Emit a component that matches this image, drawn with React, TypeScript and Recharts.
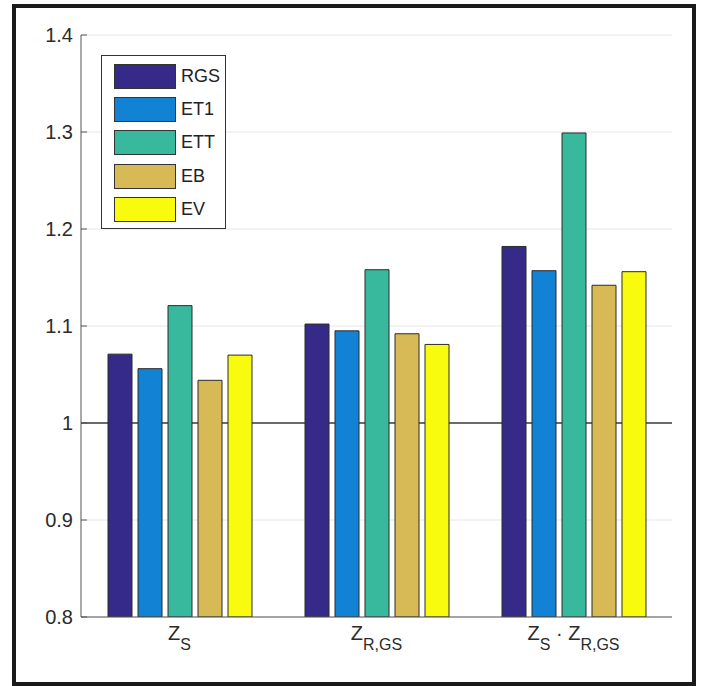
import React from "react";
import { BarChart, Bar, XAxis, YAxis, CartesianGrid, Legend } from "recharts";

const categories = ["Zs", "Zrgs", "ZsZrgs"];
const rgs = [1.071, 1.102, 1.182];
const et1 = [1.056, 1.095, 1.157];
const ett = [1.121, 1.158, 1.299];
const eb = [1.044, 1.092, 1.142];
const ev = [1.07, 1.081, 1.156];
const yTicks = [0.8, 0.9, 1, 1.1, 1.2, 1.3, 1.4];
const seriesNames = ["RGS", "ET1", "ETT", "EB", "EV"];
const seriesColors = ["#352A87", "#1283D4", "#38B99E", "#D7BA55", "#F9FB0E"];
// x tick label pieces: [text, subscript?]
const tickLabels: [string, boolean][][] = [
  [["Z", false], ["S", true]],
  [["Z", false], ["R,GS", true]],
  [["Z", false], ["S", true], [" \u00B7 ", false], ["Z", false], ["R,GS", true]],
];

const seriesValues = [rgs, et1, ett, eb, ev];
const data = categories.map((name, i) => {
  const row: Record<string, string | number> = { name };
  seriesNames.forEach((s, k) => (row[s] = seriesValues[k][i]));
  return row;
});

const FONT = '"Liberation Sans", Arial, sans-serif';
const TEXT = "#2b2b2b";
const AXIS = "#555";

function XTick(props: any) {
  const { x, y, index } = props;
  const parts = tickLabels[index] || [];
  let shifted = false;
  return (
    <text x={x} y={y + 23} textAnchor="middle" fontFamily={FONT} fontSize={20} fill={TEXT}>
      {parts.map(([t, sub], i) => {
        let dy = 0;
        if (sub && !shifted) { dy = 10; shifted = true; }
        else if (!sub && shifted) { dy = -10; shifted = false; }
        return (
          <tspan key={i} dy={dy} fontSize={sub ? 16 : 20} style={{ whiteSpace: "pre" }}>
            {t}
          </tspan>
        );
      })}
    </text>
  );
}

function YTickLeft(props: any) {
  const { x, y, payload } = props;
  return (
    <g>
      <line x1={x + 8} x2={x + 14} y1={y} y2={y} stroke={AXIS} />
      <text x={x} y={y} dy="0.36em" textAnchor="end" fontFamily={FONT} fontSize={20} fill={TEXT}>
        {String(payload.value)}
      </text>
    </g>
  );
}

function YTickRight(props: any) {
  const { x, y } = props;
  return <line x1={x - 6} x2={x} y1={y} y2={y} stroke={AXIS} />;
}

function XTickTop(props: any) {
  const { x, y } = props;
  return <line x1={x} x2={x} y1={y} y2={y + 6} stroke={AXIS} />;
}

function GridLine(props: any) {
  const { x1, x2, y1, y2, index } = props;
  const isBase = yTicks[index] === 1;
  return (
    <line
      x1={x1}
      x2={x2}
      y1={y1}
      y2={y2}
      stroke={isBase ? "#3a3a3a" : "#e6e6e6"}
      strokeWidth={isBase ? 1.6 : 1}
    />
  );
}

function LegendBox(props: any) {
  const items = [...(props.payload ?? [])].sort(
    (a: any, b: any) => seriesNames.indexOf(a.value) - seriesNames.indexOf(b.value)
  );
  return (
    <div
      style={{
        border: "1.5px solid #333",
        background: "#fff",
        width: 125,
        height: 174,
        boxSizing: "border-box",
        paddingTop: 4,
        paddingLeft: 12,
        fontFamily: FONT,
      }}
    >
      {items.map((it: any) => (
        <div key={it.value} style={{ display: "flex", alignItems: "center", height: 33.2 }}>
          <span
            style={{
              display: "inline-block",
              width: 62,
              height: 25,
              background: it.color,
              border: "1.5px solid #333",
              boxSizing: "border-box",
            }}
          />
          <span style={{ marginLeft: 5, fontSize: 18, color: "#222" }}>{it.value}</span>
        </div>
      ))}
    </div>
  );
}

export default function App() {
  return (
    <div style={{ position: "absolute", left: 0, top: 0, width: 701, height: 686, background: "#fff" }}>
      <div
        style={{
          position: "absolute",
          left: 12,
          top: 4,
          width: 684,
          height: 682,
          border: "4px solid #1a1a1a",
          boxSizing: "border-box",
        }}
      />
      <div style={{ position: "absolute", left: 0, top: 0 }}>
        <BarChart
          width={701}
          height={686}
          data={data}
          margin={{ top: 35, right: 29, bottom: 9, left: 11 }}
          barSize={24}
          barGap={6}
        >
          <CartesianGrid vertical={false} horizontal={(p: any) => <GridLine {...p} />} />
          <XAxis
            dataKey="name"
            height={60}
            axisLine={{ stroke: AXIS }}
            tickLine={false}
            tickSize={0}
            tickMargin={0}
            tick={<XTick />}
            interval={0}
          />
          <XAxis
            xAxisId="top"
            dataKey="name"
            orientation="top"
            height={0}
            axisLine={{ stroke: AXIS }}
            tickLine={false}
            tickSize={0}
            tickMargin={0}
            tick={<XTickTop />}
            interval={0}
          />
          <YAxis
            domain={[0.8, 1.4]}
            ticks={yTicks}
            width={70}
            axisLine={{ stroke: AXIS }}
            tickLine={false}
            tickSize={0}
            tickMargin={8}
            tick={<YTickLeft />}
            interval={0}
            allowDataOverflow
          />
          <YAxis
            yAxisId="right"
            orientation="right"
            domain={[0.8, 1.4]}
            ticks={yTicks}
            width={0}
            axisLine={{ stroke: AXIS }}
            tickLine={false}
            tickSize={0}
            tickMargin={0}
            tick={<YTickRight />}
            interval={0}
          />
          <Legend
            layout="vertical"
            align="center"
            verticalAlign="middle"
            content={<LegendBox />}
            wrapperStyle={{ left: 101, top: 55, width: 125, height: 174 }}
          />
          {seriesNames.map((s, k) => (
            <Bar
              key={s}
              dataKey={s}
              name={s}
              fill={seriesColors[k]}
              stroke="#2b2b2b"
              strokeWidth={1}
              isAnimationActive={false}
            />
          ))}
        </BarChart>
      </div>
    </div>
  );
}
